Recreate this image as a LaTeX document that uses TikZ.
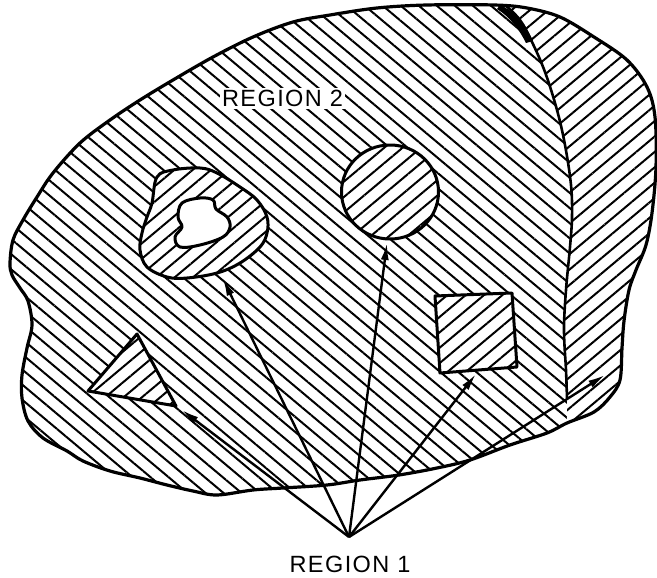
\documentclass[tikz,border=0pt]{standalone}
\usepackage{fontspec}
\setmainfont{Liberation Sans}
\usetikzlibrary{patterns.meta,arrows.meta}

% outline of the whole body
\newcommand{\bodyline}{plot[smooth cycle, tension=0.55] coordinates {
  (330,15) (377,8) (427,5) (494,5) (527,8) (560,17) (594,37) (627,60)
  (647,87) (655,117) (656,167) (652,213) (646,245) (636,270) (629,290)
  (624,321) (622,348) (620,380) (610,397) (594,412) (567,423) (547,433)
  (510,445) (470,460) (437,468) (399,475) (360,480) (327,485) (283,488)
  (253,490) (217,495) (193,491) (167,485) (140,478) (110,471) (83,461)
  (67,451) (43,438) (28,421) (22,398) (22,375) (27,348) (32,325) (28,301)
  (20,288) (12,275) (10,263) (13,240) (23,220) (37,197) (53,173) (80,143)
  (110,120) (140,100) (173,80) (213,57) (253,37) (293,22)}}
% boundary of the strip on the right
\newcommand{\stripline}{plot[smooth, tension=0.6] coordinates {
  (505,5) (520,20) (532,42) (545,72) (557,110) (565,145) (571,185)
  (572,217) (570,247) (566,290) (564,330) (566,370) (567,398)}}

\begin{document}
\begin{tikzpicture}[x=1pt, y=-1pt, >={Latex[length=17pt,width=8pt]},
    backhatch/.style={pattern={Lines[angle=-40,distance=11.6pt,line width=2pt]}},
    forehatch/.style={fill=white, postaction={pattern={Lines[angle=40,distance=11.8pt,line width=2pt]}}},
    edge/.style={line width=3pt, line join=round},
    pointer/.style={->, line width=2.4pt},
    regionlabel/.style={fill=white, inner sep=2pt,
      font=\fontsize{23.5}{26}\selectfont\addfontfeature{LetterSpace=6}}]
  \fill[white] (0,0) rectangle (657,578);
  \useasboundingbox (0,0) rectangle (657,578);

  % Region 2
  \path[backhatch] \bodyline;

  % Strip on the right
  \begin{scope}
    \clip \bodyline;
    \path[forehatch] \stripline -- (567,600) -- (700,600) -- (700,-10) -- (505,-10) -- cycle;
  \end{scope}
  \draw[edge, line width=2.6pt] \stripline;
  \fill (500,5) .. controls (514,11) and (525,23) .. (533,41)
    -- (526,43) .. controls (519,29) and (510,17) .. (497,9) -- cycle;

  % Ring with the inner hole
  \draw[edge, forehatch] plot[smooth cycle, tension=0.6] coordinates {
    (157,177) (173,170) (200,168) (217,173) (240,187) (257,200) (267,217)
    (267,233) (260,247) (240,263) (217,273) (187,278) (167,277) (147,267)
    (140,250) (142,233) (147,217) (152,203)};
  \draw[edge, fill=white] plot[smooth cycle, tension=0.6] coordinates {
    (182,203) (200,198) (213,200) (216,209) (227,217) (230,227) (223,237)
    (200,245) (180,247) (175,237) (182,227) (178,217)};

  % Circle
  \draw[edge, forehatch] (390,192) ellipse [x radius=48.5, y radius=47];

  % Square
  \draw[edge, forehatch] (435,296) -- (512,293) -- (517,367) -- (440,373) -- cycle;

  % Triangle
  \draw[edge, forehatch] (137,334) -- (88,391) -- (176,406) -- cycle;

  % Outer edge
  \draw[edge, line width=3.2pt] \bodyline;

  % Labels
  \node[regionlabel] (reg2) at (282.5,98.5) {REGION 2};
  \node[regionlabel, fill=none] (reg1) at (350,564) {REGION 1};

  % Arrows from region 1
  \coordinate (apex) at (349,537);
  \coordinate (tritip) at (182,410);
  \coordinate (ringtip) at (223,279);
  \coordinate (circtip) at (387,243);
  \coordinate (sqtip) at (476,374);
  \coordinate (striptip) at (605,375);
  \foreach \t in {tritip,ringtip,circtip,sqtip,striptip}
    \draw[pointer] (apex) -- (\t);
\end{tikzpicture}
\end{document}
